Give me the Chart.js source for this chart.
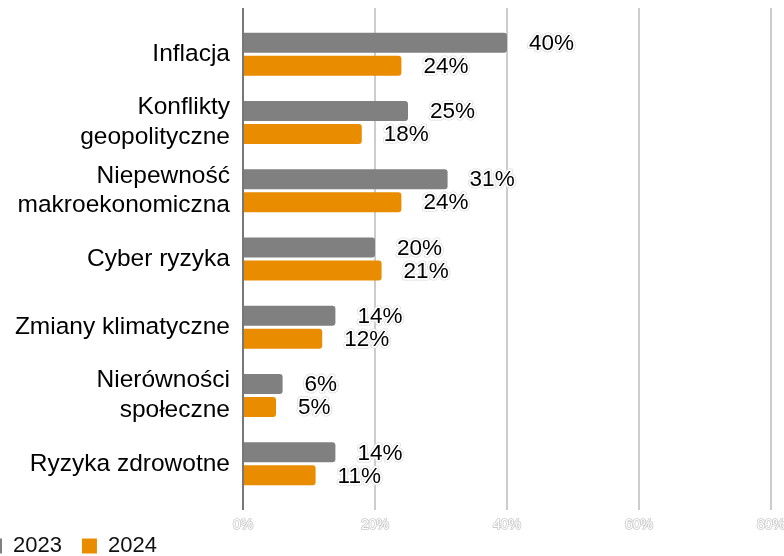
<!DOCTYPE html>
<html>
<head>
<meta charset="utf-8">
<script src="https://cdn.jsdelivr.net/npm/chart.js@4"></script>
<style>
  html, body { margin: 0; padding: 0; background: #fff; overflow: hidden; }
  #wrap { position: absolute; left: -33px; top: 0; width: 847px; height: 556px; }
</style>
</head>
<body>
<div id="wrap"><canvas id="risks"></canvas></div>
<script>
// data
const categories = ["Inflacja", ["Konflikty", "geopolityczne"], ["Niepewność", "makroekonomiczna"], "Cyber ryzyka", "Zmiany klimatyczne", ["Nierówności", "społeczne"], "Ryzyka zdrowotne"];
const values2023 = [40, 25, 31, 20, 14, 6, 14];
const values2024 = [24, 18, 24, 21, 12, 5, 11];
const xTicks = [0, 20, 40, 60, 80];

const FONT = '"Liberation Sans", Arial, sans-serif';

// grid lines longer than the category band, outlined x tick labels,
// value labels with a white halo
const extras = {
  id: 'extras',
  beforeDatasetsDraw(chart) {
    const {ctx, chartArea, scales: {x}} = chart;
    ctx.save();
    xTicks.slice(1).forEach(t => {
      const px = Math.round(x.getPixelForValue(t));
      ctx.strokeStyle = '#cccccc';
      ctx.lineWidth = 2;
      ctx.beginPath();
      ctx.moveTo(px, chartArea.top - 12);
      ctx.lineTo(px, chartArea.bottom + 12);
      ctx.stroke();
    });
    ctx.restore();
  },
  afterDatasetsDraw(chart) {
    const {ctx, chartArea, scales: {x}} = chart;
    ctx.save();
    const px0 = Math.round(x.getPixelForValue(0));
    ctx.strokeStyle = '#777777';
    ctx.lineWidth = 2;
    ctx.beginPath();
    ctx.moveTo(px0, chartArea.top - 12);
    ctx.lineTo(px0, chartArea.bottom + 12);
    ctx.stroke();

    // x tick labels: white with a light grey outline
    ctx.font = '14px ' + FONT;
    ctx.textAlign = 'center';
    ctx.textBaseline = 'middle';
    ctx.lineJoin = 'round';
    xTicks.forEach(t => {
      const px = x.getPixelForValue(t);
      const py = chartArea.bottom + 27;
      ctx.strokeStyle = '#cacaca'; ctx.lineWidth = 1.6; ctx.strokeText(t + '%', px, py);
      ctx.fillStyle = '#ffffff'; ctx.fillText(t + '%', px, py);
    });

    ctx.font = '22.5px ' + FONT;
    ctx.textAlign = 'left';
    chart.data.datasets.forEach((ds, i) => {
      chart.getDatasetMeta(i).data.forEach((bar, j) => {
        const txt = ds.data[j] + '%';
        const tx = bar.x + 22, ty = bar.y + 1;
        ctx.strokeStyle = '#dddddd'; ctx.lineWidth = 5; ctx.strokeText(txt, tx, ty);
        ctx.strokeStyle = '#ffffff'; ctx.lineWidth = 3.5; ctx.strokeText(txt, tx, ty);
        ctx.fillStyle = '#000000'; ctx.fillText(txt, tx, ty);
      });
    });
    ctx.restore();
  }
};

const data = {
  labels: categories,
  datasets: [
    {label: "2023", data: values2023, backgroundColor: "#808080", borderRadius: 3, categoryPercentage: 0.674, barPercentage: 0.87},
    {label: "2024", data: values2024, backgroundColor: "#ea8c00", borderRadius: 3, categoryPercentage: 0.674, barPercentage: 0.87}
  ]
};

const config = {
  type: 'bar',
  data: data,
  plugins: [extras],
  options: {
    indexAxis: 'y',
    responsive: true,
    maintainAspectRatio: false,
    animation: false,
    layout: {padding: {top: 20, right: 43, bottom: 0, left: 0}},
    scales: {
      x: {
        min: 0, max: 80,
        grid: {display: false, drawTicks: false},
        border: {display: false},
        ticks: {display: false, stepSize: 20},
        afterFit: s => { s.height = 17; }
      },
      y: {
        grid: {display: false, drawTicks: false},
        border: {display: false},
        ticks: {
          padding: 13,
          color: '#000000',
          font: {family: FONT, size: 24.5, lineHeight: 1.22}
        },
        afterFit: s => { s.width = 276; s.paddingTop = 0; s.paddingBottom = 0; }
      }
    },
    plugins: {
      tooltip: {enabled: false},
      legend: {
        position: 'bottom',
        align: 'start',
        maxHeight: 41,
        labels: {
          boxWidth: 15,
          boxHeight: 15,
          padding: 20,
          color: '#111111',
          font: {family: FONT, size: 22}
        }
      }
    }
  }
};

const riskChart = new Chart(document.getElementById("risks"), config);
</script>
</body>
</html>
